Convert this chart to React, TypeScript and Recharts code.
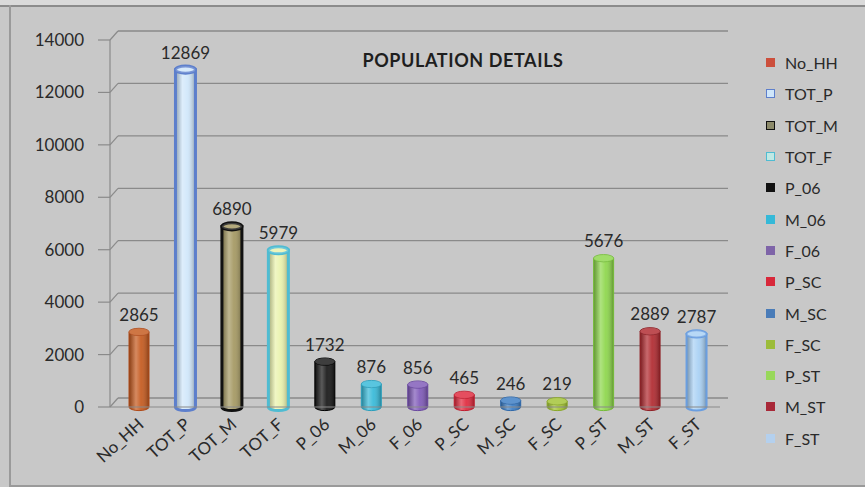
import React from 'react'
import { BarChart, Bar, XAxis, YAxis, CartesianGrid, LabelList } from 'recharts'

// census counts per category
const categories = ['No_HH', 'TOT_P', 'TOT_M', 'TOT_F', 'P_06', 'M_06', 'F_06', 'P_SC', 'M_SC', 'F_SC', 'P_ST', 'M_ST', 'F_ST']
const values = [2865, 12869, 6890, 5979, 1732, 876, 856, 465, 246, 219, 5676, 2889, 2787]
const yTicks = [0, 2000, 4000, 6000, 8000, 10000, 12000, 14000]

const FONT = 'Lato, "Open Sans", sans-serif'
const BG = '#c8c8c8'
const GRID = '#8a8a8a'
const TEXT = '#2a2a2a'

// fill / outline per cylinder
const barStyles = [
  { fill: '#c4581c', stroke: '#b04a18', sw: 1, legend: '#cc4f3c' },
  { fill: '#cfe6fa', stroke: '#5d7fcc', sw: 3, legend: '#cfe6fa' },
  { fill: '#a39760', stroke: '#111111', sw: 3, legend: '#8c8a6a' },
  { fill: '#eaf2ac', stroke: '#4fbcd2', sw: 3, legend: '#bfe8e4' },
  { fill: '#141414', stroke: '#000000', sw: 1, legend: '#111111' },
  { fill: '#35b9d8', stroke: '#2a9fbd', sw: 1, legend: '#35b9d8' },
  { fill: '#7e58b8', stroke: '#6a48a0', sw: 1, legend: '#7e64a8' },
  { fill: '#e0283c', stroke: '#c01e30', sw: 1, legend: '#d8283a' },
  { fill: '#3a7cc4', stroke: '#2e68aa', sw: 1, legend: '#4a7cb8' },
  { fill: '#a2c232', stroke: '#8aa828', sw: 1, legend: '#9cbc3a' },
  { fill: '#8cd64a', stroke: '#74bc38', sw: 1, legend: '#98d85a' },
  { fill: '#b0282e', stroke: '#902026', sw: 1, legend: '#a82838' },
  { fill: '#a8d0f4', stroke: '#6a9ee0', sw: 2, legend: '#b4d0ee' },
]
const outlinedLegend = [false, true, true, true, false, false, false, false, false, false, false, false, false]

const data = categories.map((name, i) => ({ name, value: values[i] }))

function Cylinder(props: any) {
  const { x, y, width, height, index } = props
  if (height == null || width == null) return null
  const st = barStyles[index]
  const rx = width / 2
  const ry = Math.max(2.5, width * 0.18)
  const cx = x + rx
  const bottom = y + height
  const body = `M${x},${y} L${x},${bottom} A${rx},${ry} 0 0 0 ${x + width},${bottom} L${x + width},${y} Z`
  return (
    <g>
      <path d={body} fill={st.fill} />
      <path d={body} fill="url(#cylShade)" stroke={st.stroke} strokeWidth={st.sw} />
      <ellipse cx={cx} cy={y} rx={rx} ry={ry} fill={st.fill} stroke={st.stroke} strokeWidth={st.sw} />
      <ellipse cx={cx} cy={y} rx={rx} ry={ry} fill="#ffffff" fillOpacity={0.18} />
    </g>
  )
}

function YTick({ x, y, payload }: any) {
  return (
    <g>
      <text x={x - 26} y={y} dy={6} textAnchor="end" fontSize={17} fontFamily={FONT} fill={TEXT}>
        {payload.value}
      </text>
      <line x1={x - 12} y1={y} x2={x} y2={y} stroke={GRID} strokeWidth={1.2} />
      <line x1={x} y1={y} x2={x + 8} y2={y - 9} stroke={GRID} strokeWidth={1.2} />
    </g>
  )
}

function XTick({ x, y, payload }: any) {
  return (
    <g transform={`translate(${x + 3},${y + 16}) rotate(-42)`}>
      <text x={0} y={0} dy={4} textAnchor="end" fontSize={17} fontFamily={FONT} fill={TEXT}>
        {payload.value}
      </text>
    </g>
  )
}

function Legend() {
  return (
    <div style={{ position: 'absolute', left: 766, top: 47, fontFamily: FONT, fontSize: 16, color: TEXT }}>
      {categories.map((c, i) => (
        <div key={c} style={{ height: 31.3, display: 'flex', alignItems: 'center' }}>
          <span
            style={{
              display: 'inline-block',
              width: outlinedLegend[i] ? 7 : 9,
              height: outlinedLegend[i] ? 7 : 9,
              background: barStyles[i].legend,
              border: outlinedLegend[i] ? `1.5px solid ${barStyles[i].stroke}` : 'none',
              marginRight: 10,
            }}
          />
          {c}
        </div>
      ))}
    </div>
  )
}

export default function App() {
  return (
    <div style={{ position: 'absolute', left: 0, top: 0, width: 865, height: 487, background: BG, overflow: 'hidden' }}>
      <div style={{ position: 'absolute', left: 0, top: 0, width: 865, height: 5, background: '#dadada' }} />
      <div style={{ position: 'absolute', left: 0, top: 5, width: 865, height: 2, background: '#8c8c8c' }} />
      <div style={{ position: 'absolute', left: 9, top: 5, width: 2, height: 482, background: '#9a9a9a' }} />
      <div style={{ position: 'absolute', left: 9, top: 485, width: 856, height: 2, background: '#9a9a9a' }} />
      <BarChart width={865} height={487} data={data} margin={{ top: 40, right: 145, bottom: 70, left: 0 }}>
        <defs>
          <linearGradient id="cylShade" x1="0" x2="1" y1="0" y2="0">
            <stop offset="0" stopColor="#000" stopOpacity={0.3} />
            <stop offset="0.35" stopColor="#fff" stopOpacity={0.3} />
            <stop offset="0.6" stopColor="#fff" stopOpacity={0.08} />
            <stop offset="1" stopColor="#000" stopOpacity={0.3} />
          </linearGradient>
        </defs>
        <CartesianGrid
          vertical={false}
          x={118}
          width={610}
          stroke={GRID}
          strokeWidth={1.3}
          horizontalCoordinatesGenerator={({ yAxis, offset }: any) =>
            yTicks.map((v) =>
              (yAxis && typeof yAxis.scale === 'function'
                ? yAxis.scale(v)
                : offset.top + offset.height * (1 - v / 14000)) - 9
            )
          }
        />
        <XAxis
          dataKey="name"
          interval={0}
          height={10}
          padding={{ left: 6, right: 0 }}
          tickLine={false}
          tickSize={0}
          tickMargin={0}
          axisLine={{ stroke: GRID, strokeWidth: 1.2 }}
          tick={<XTick />}
        />
        <YAxis
          width={110}
          domain={[0, 14000]}
          ticks={yTicks}
          tickLine={false}
          tickSize={0}
          tickMargin={0}
          axisLine={{ stroke: GRID, strokeWidth: 1.2 }}
          tick={<YTick />}
        />
        <Bar dataKey="value" barSize={20} shape={<Cylinder />} isAnimationActive={false}>
          <LabelList dataKey="value" position="top" offset={11} fontSize={17} fontFamily={FONT} fill={TEXT} />
        </Bar>
      </BarChart>
      <div
        style={{
          position: 'absolute',
          left: 463,
          top: 49,
          transform: 'translateX(-50%)',
          fontFamily: FONT,
          fontWeight: 700,
          fontSize: 18,
          letterSpacing: 0.6,
          color: '#1e1e1e',
          whiteSpace: 'nowrap',
        }}
      >
        POPULATION DETAILS
      </div>
      <Legend />
    </div>
  )
}
